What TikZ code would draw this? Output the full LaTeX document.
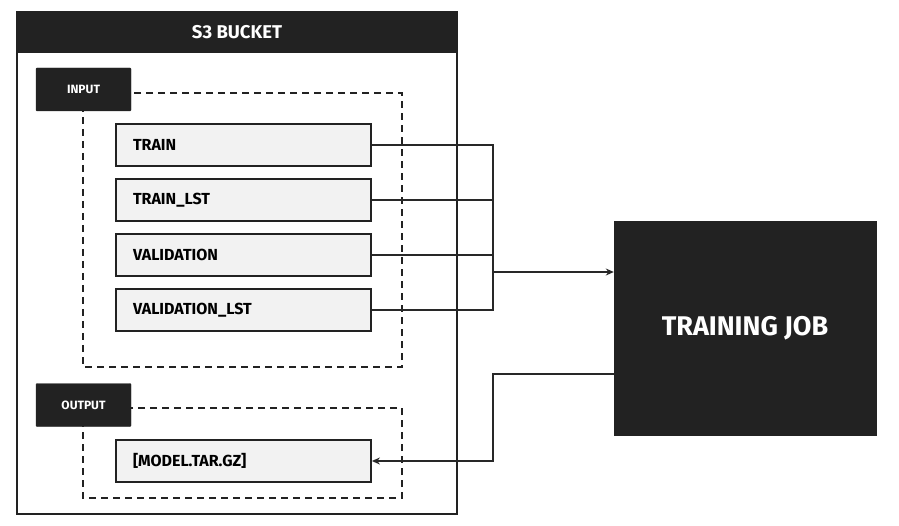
\documentclass[tikz,border=0pt]{standalone}
\usepackage{fontspec}
\setmainfont{Fira Sans}
\usepackage{tikz}
\usetikzlibrary{arrows.meta,positioning,calc}
\definecolor{inkdark}{RGB}{34,34,34}
\definecolor{itemfill}{RGB}{242,242,242}
\definecolor{wireline}{RGB}{40,40,40}

\begin{document}
\begin{tikzpicture}[
  x=1pt, y=-1pt,
  every node/.style={font=\bfseries, inner sep=0pt},
  bucketN/.style={draw=inkdark, line width=1.6pt, minimum width=440, minimum height=502},
  headN/.style={fill=inkdark, draw=inkdark, line width=1.6pt, text=white, minimum width=440, minimum height=40, font=\bfseries\fontsize{18.5}{22}\selectfont},
  tagN/.style={fill=inkdark, draw=inkdark, text=white, rounded corners=1pt, minimum width=95, minimum height=43, font=\bfseries\fontsize{12}{14}\selectfont},
  itemN/.style={draw=inkdark, fill=itemfill, line width=1.8pt, minimum height=42, text width=221, inner xsep=17, align=left, font=\bfseries\fontsize{16}{19}\selectfont},
  group/.style={draw=inkdark, line width=1.4pt, dash pattern=on 7pt off 5pt},
  jobN/.style={fill=inkdark, draw=inkdark, text=white, minimum width=262, minimum height=214, font=\bfseries\fontsize{27}{32}\selectfont},
  link/.style={wireline, line width=1.3pt},
]
\useasboundingbox (0,0) rectangle (899,526);
% bucket
\node[bucketN] (bucket) at (237,263) {};
\node[headN] (head) at (237,32) {S3 BUCKET};
% input group
\draw[group] (83,93) rectangle (402,367);
\node[tagN] (input) at (83.5,89.5) {INPUT};
\node[itemN] (train) at (243.5,145) {TRAIN};
\node[itemN] (trainlst) at (243.5,200) {TRAIN\_LST};
\node[itemN] (val) at (243.5,255) {VALIDATION};
\node[itemN] (vallst) at (243.5,310) {VALIDATION\_LST};
% output group
\draw[group] (83,408) rectangle (402,498);
\node[tagN] (output) at (83.5,405) {OUTPUT};
\node[itemN] (model) at (243.5,461) {[MODEL.TAR.GZ]};
% training job
\node[jobN] (job) at (745,328) {TRAINING JOB};
\coordinate (jin) at (493,272);
\coordinate (jret) at (493,374);
\foreach \n in {train,trainlst,val,vallst}
  \draw[link] (\n.east) -| (jin);
\draw[link, -{Stealth[length=8pt,width=7pt]}] (jin) -- (jin -| job.west);
\draw[link, -{Stealth[length=8pt,width=7pt]}] (jret -| job.west) -- (jret) |- (model.east);
\end{tikzpicture}
\end{document}
